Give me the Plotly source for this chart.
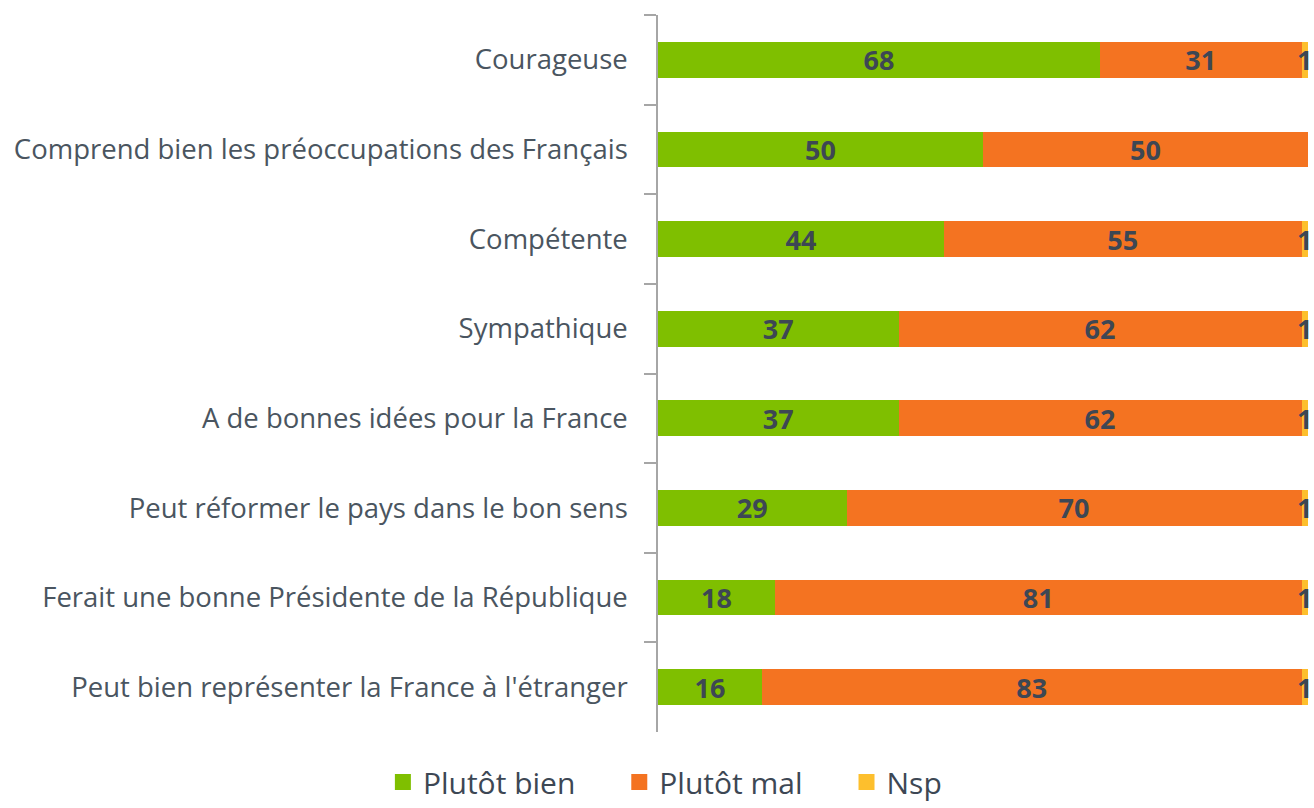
import plotly.graph_objects as go

categories = [
    "Courageuse",
    "Comprend bien les préoccupations des Français",
    "Compétente",
    "Sympathique",
    "A de bonnes idées pour la France",
    "Peut réformer le pays dans le bon sens",
    "Ferait une bonne Présidente de la République",
    "Peut bien représenter la France à l'étranger",
]
plutot_bien = [68, 50, 44, 37, 37, 29, 18, 16]
plutot_mal = [31, 50, 55, 62, 62, 70, 81, 83]
nsp = [1, 0, 1, 1, 1, 1, 1, 1]

series_names = ["Plutôt bien", "Plutôt mal", "Nsp"]
colors = ["#7fbf00", "#f47321", "#fdbf2d"]
text_color = "#3d4754"
label_font = "Open Sans"

fig = go.Figure()
for name, vals, col in zip(series_names, [plutot_bien, plutot_mal, nsp], colors):
    show_text = name != "Nsp"
    fig.add_trace(go.Bar(
        y=categories, x=vals, name=name, orientation="h",
        marker=dict(color=col, line=dict(width=0)),
        text=[str(v) for v in vals] if show_text else None,
        textposition="inside" if show_text else "none",
        insidetextanchor="middle",
        textangle=0,
        constraintext="none",
        textfont=dict(family=label_font, size=27, color=text_color, weight="bold"),
        width=0.4,
        showlegend=False,
        hoverinfo="x+y+name",
    ))

# legend entries with square markers (padding after names for spacing)
pads = ["\u00a0" * 5, "\u00a0" * 5, ""]
for name, col, pad in zip(series_names, colors, pads):
    fig.add_trace(go.Scatter(
        x=[None], y=[None], mode="markers", name=name + pad,
        marker=dict(symbol="square", size=18, color=col),
        showlegend=True,
    ))

# Nsp labels positioned at bar centre through data scale
for cat, b, m, n in zip(categories, plutot_bien, plutot_mal, nsp):
    if n > 0:
        fig.add_annotation(
            x=b + m + n / 2, y=cat, xref="x", yref="y", text=str(n),
            showarrow=False, xanchor="center", yanchor="middle",
            font=dict(family=label_font, size=27, color=text_color, weight="bold"),
        )

fig.update_layout(
    barmode="stack",
    width=1314, height=808,
    margin=dict(l=658, r=6, t=15, b=76),
    plot_bgcolor="white", paper_bgcolor="white",
    font=dict(family=label_font, color="#4a5560"),
    legend=dict(
        orientation="h", xref="container", yref="container",
        x=0.506, xanchor="center", y=0.0, yanchor="bottom",
        font=dict(size=30, color="#3d4754"),
        traceorder="normal", itemsizing="trace",
        tracegroupgap=0,
    ),
    showlegend=True,
)
fig.update_xaxes(range=[0, 100], visible=False, showgrid=False, zeroline=False)
fig.update_yaxes(
    type="category", categoryorder="array", categoryarray=categories,
    autorange="reversed",
    showline=True, linecolor="#a6a6a6", linewidth=1.5,
    ticks="outside", ticklen=12, tickcolor="#a6a6a6", tickwidth=1.5,
    tickson="boundaries",
    ticklabelstandoff=23,
    tickfont=dict(family=label_font, size=27.5, color="#4a5560"),
    showgrid=False, zeroline=False,
)

fig.write_html(
    "out.html",
    config={"displayModeBar": False},
    post_script="document.body.style.margin='0';document.body.style.overflow='hidden';",
)
